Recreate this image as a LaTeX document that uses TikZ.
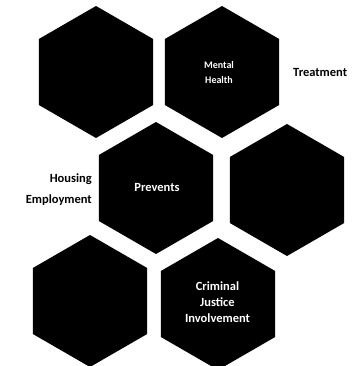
\documentclass[tikz,border=0pt]{standalone}
\usepackage{fontspec}
\setmainfont{Carlito}
\usetikzlibrary{shapes.geometric}
\tikzset{
  hexa/.style={regular polygon, regular polygon sides=6, shape border rotate=30,
    minimum size=132pt, inner sep=0pt, outer sep=0pt, fill=black, draw=none},
  intext/.style={text=white, align=center, inner sep=0pt},
  outtext/.style={text=black, font=\fontsize{12.5}{14}\selectfont\bfseries, inner sep=0pt}
}
\begin{document}
\begin{tikzpicture}[x=1pt,y=-1pt]
\useasboundingbox (0,0) rectangle (352,366);
\node[hexa] (h1) at (96,72) {};
\node[hexa] (h2) at (222,72) {};
\node[hexa] (h3) at (156,188) {};
\node[hexa] (h4) at (287,190) {};
\node[hexa] (h5) at (90,301) {};
\node[hexa] (h6) at (218,304) {};
\node[intext, font=\fontsize{10}{15}\selectfont\bfseries] (mh) at (219,72.5) {Mental\\Health};
\node[intext, font=\fontsize{12.5}{15}\selectfont\bfseries] (pv) at (157,187) {Prevents};
\node[intext, font=\fontsize{12.5}{16}\selectfont\bfseries] (cj) at (217.5,302) {Criminal\\Justice\\Involvement};
\node[outtext, anchor=west] (tr) at (293,72) {Treatment};
\node[outtext, anchor=east] (ho) at (92,179) {Housing};
\node[outtext, anchor=east] (em) at (92,200) {Employment};
\end{tikzpicture}
\end{document}
